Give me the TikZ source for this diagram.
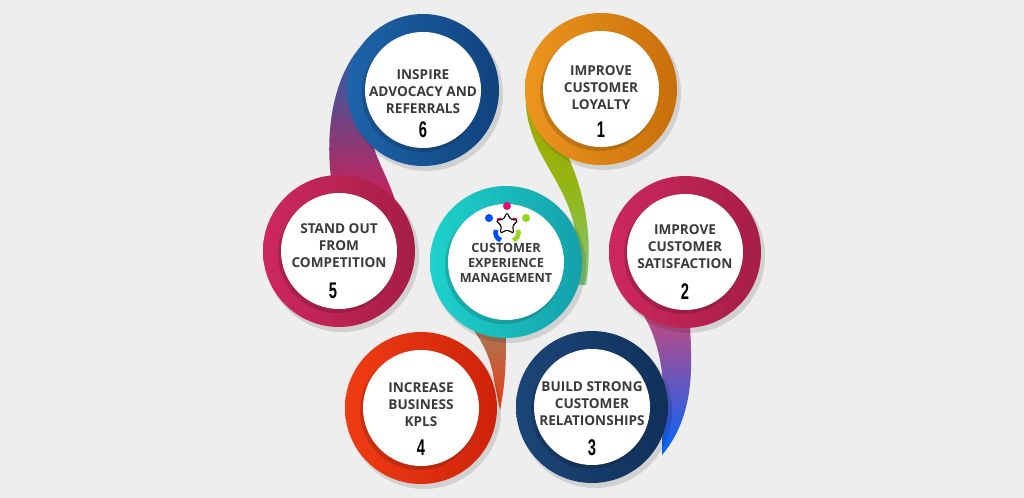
\documentclass[tikz,border=0pt]{standalone}
\usepackage{fontspec}
\setmainfont{Open Sans}
\newfontfamily\numfont{Liberation Sans}
\usetikzlibrary{shapes.geometric}
\usetikzlibrary{calc}
\definecolor{bgray}{RGB}{238,238,238}
\definecolor{txtgray}{RGB}{58,58,58}
\definecolor{blueA}{RGB}{30,100,170}
\definecolor{blueB}{RGB}{16,66,124}
\definecolor{orangeA}{RGB}{236,150,30}
\definecolor{orangeB}{RGB}{200,110,10}
\definecolor{crimA}{RGB}{205,40,95}
\definecolor{crimB}{RGB}{165,30,70}
\definecolor{tealA}{RGB}{30,210,205}
\definecolor{tealB}{RGB}{20,160,170}
\definecolor{redA}{RGB}{240,60,20}
\definecolor{redB}{RGB}{205,35,10}
\definecolor{navyA}{RGB}{28,70,120}
\definecolor{navyB}{RGB}{16,48,90}
\tikzset{
  ringtext/.style={text=txtgray, align=center, font=\bfseries\fontsize{10.2}{12.8}\selectfont},
  ringnum/.style={text=black, font=\numfont\bfseries\fontsize{17}{17}\selectfont},
}
\newcommand{\ring}[4]{% center, outer colour, inner colour, name
  \fill[black, opacity=0.12] ($(#1)+(3,4)$) circle (77);
  \shade[left color=#2, right color=#3] (#1) circle (76);
  \fill[black, opacity=0.15] ($(#1)+(-2,3)$) circle (59);
  \fill[white] (#1) circle (58);
  \coordinate (#4) at (#1);
}
\begin{document}
\begin{tikzpicture}[x=0.75pt,y=-0.75pt]
\fill[bgray] (0,0) rectangle (1024,498);
\useasboundingbox (0,0) rectangle (1024,498);
% ribbons
\shade[top color=blueA, bottom color=crimA!80!purple]
  (362,45) .. controls (330,80) and (325,140) .. (332,185)
  -- (395,200) .. controls (385,170) and (370,150) .. (370,125) -- cycle;
\shade[top color=olive!70!yellow, bottom color=green!55!black!50!white]
  (526,90) .. controls (522,150) and (565,175) .. (575,230)
  -- (575,285) -- (586,285) .. controls (595,230) and (580,180) .. (565,150) -- cycle;
\shade[top color=tealA!60!brown, bottom color=redA]
  (442,252) .. controls (445,320) and (485,320) .. (494,380)
  -- (500,410) .. controls (508,370) and (506,340) .. (505,300) -- cycle;
\shade[top color=crimA!80!pink, bottom color=blue!60!cyan]
  (632,300) .. controls (660,330) and (668,380) .. (662,440)
  -- (662,455) .. controls (700,410) and (690,350) .. (690,320) -- cycle;
% rings
\ring{423,90}{blueA}{blueB}{c6}
\ring{601,89}{orangeA}{orangeB}{c1}
\ring{339,251}{crimA}{crimB}{c5}
\ring{685,252}{crimA}{crimB}{c2}
\ring{421,408}{redA}{redB}{c4}
\ring{592,407}{navyA}{navyB}{c3}
\ring{506,262}{tealA}{tealB}{cm}
% texts
\node[ringtext] (t6) at ($(c6)+(0,2)$) {INSPIRE\\ADVOCACY AND\\REFERRALS};
\node[ringnum] (n6) at ($(c6)+(0,40)$) {\scalebox{0.65}[1]{6}};
\node[ringtext] (t1) at ($(c1)+(0,-1)$) {IMPROVE\\CUSTOMER\\LOYALTY};
\node[ringnum] (n1) at ($(c1)+(0,41)$) {\scalebox{0.65}[1]{1}};
\node[ringtext] (t5) at ($(c5)+(0,-5)$) {STAND OUT\\FROM\\COMPETITION};
\node[ringnum] (n5) at ($(c5)+(-6,40)$) {\scalebox{0.65}[1]{5}};
\node[ringtext] (t2) at ($(c2)+(0,-5)$) {IMPROVE\\CUSTOMER\\SATISFACTION};
\node[ringnum] (n2) at ($(c2)+(0,40)$) {\scalebox{0.65}[1]{2}};
\node[ringtext] (t4) at ($(c4)+(0,-3)$) {INCREASE\\BUSINESS\\KPLS};
\node[ringnum] (n4) at ($(c4)+(0,40)$) {\scalebox{0.65}[1]{4}};
\node[ringtext] (t3) at ($(c3)+(0,-3)$) {BUILD STRONG\\CUSTOMER\\RELATIONSHIPS};
\node[ringnum] (n3) at ($(c3)+(0,41)$) {\scalebox{0.65}[1]{3}};
\node[ringtext, font=\bfseries\fontsize{9.5}{11.2}\selectfont] (tm) at ($(cm)+(0,1)$) {CUSTOMER\\EXPERIENCE\\MANAGEMENT};
% icon
\fill[blue!70!cyan] (489,218) circle (4);
\draw[blue!70!cyan, line width=3.5] (496,230) arc (200:110:8);
\fill[magenta!80!red] (507,206) circle (4);
\draw[magenta!80!red, line width=3.5] (499,218) arc (180:0:8);
\fill[yellow!60!green] (526,218) circle (4);
\draw[yellow!60!green, line width=3.5] (518,230) arc (-20:70:8);
\node[star, star points=5, star point ratio=1.9, draw=black, fill=white, line width=0.8, rounded corners=1, minimum size=17, inner sep=0] (ic) at (507,224) {};
\end{tikzpicture}
\end{document}
